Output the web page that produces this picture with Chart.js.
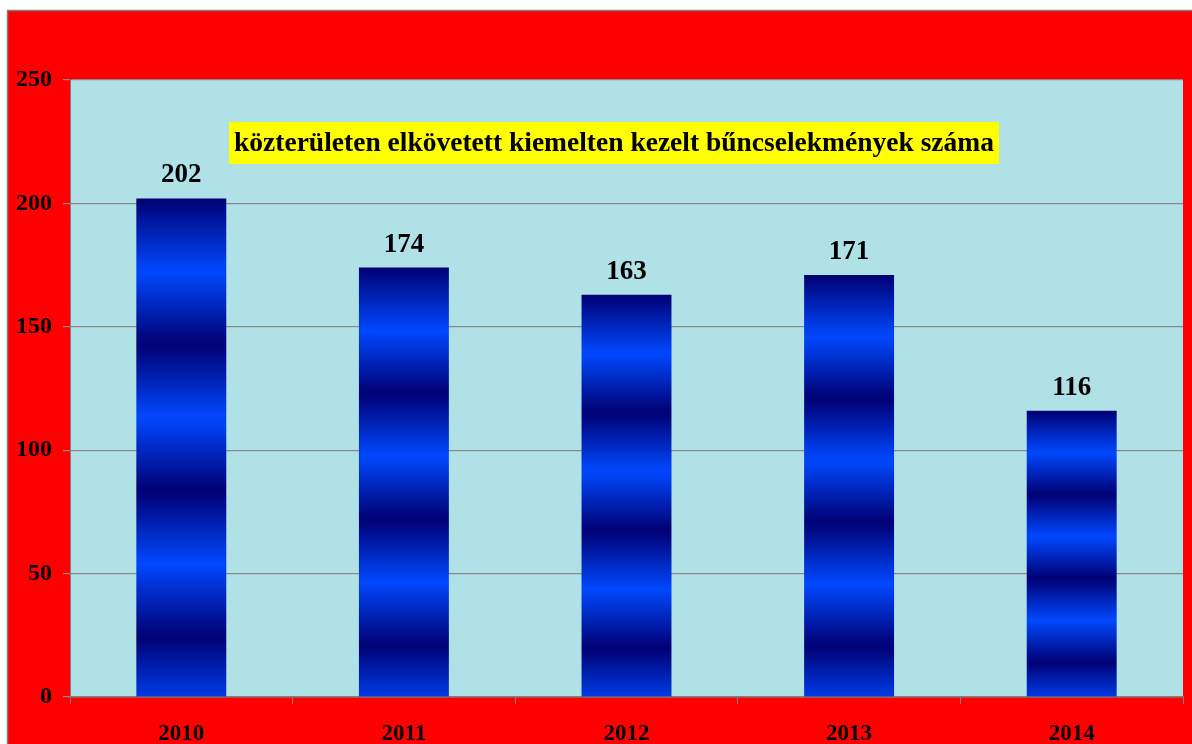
<!DOCTYPE html>
<html>
<head>
<meta charset="utf-8">
<script src="https://cdn.jsdelivr.net/npm/chart.js@4"></script>
<style>
  html, body { margin: 0; padding: 0; background: #fff; }
  #wrap { position: relative; width: 1192px; height: 744px; }
</style>
</head>
<body>
<div id="wrap"><canvas id="chart" width="1192" height="744"></canvas></div>
<script>
// ===== data =====
const years = ["2010", "2011", "2012", "2013", "2014"];
const counts = [202, 174, 163, 171, 116];
const yTicks = [0, 50, 100, 150, 200, 250];
const chartTitle = "közterületen elkövetett kiemelten kezelt bűncselekmények száma";

const FONT = "'Liberation Serif', 'Times New Roman', serif";

// striped blue gradient, scaled to each bar
const DARK = [0, 0, 115];
const BRIGHT = [0, 72, 255];
function barGradient(c) {
  const chart = c.chart;
  if (!chart.chartArea || c.raw == null) return "#0033cc";
  const ys = chart.scales.y;
  const top = ys.getPixelForValue(c.raw);
  const bot = ys.getPixelForValue(0);
  const g = chart.ctx.createLinearGradient(0, top, 0, bot);
  const p = 0.293;
  for (let k = 0; k <= 60; k++) {
    const t = k / 60;
    const ph = (t / p) % 1;
    const s = 1 - Math.abs(ph * 2 - 1); // 0 dark, 1 bright
    const col = DARK.map((d, j) => Math.round(d + (BRIGHT[j] - d) * s));
    g.addColorStop(t, "rgb(" + col.join(",") + ")");
  }
  return g;
}

// red background + grey border + plot area fill
const backdrop = {
  id: "backdrop",
  beforeDraw(chart) {
    const { ctx, chartArea: a } = chart;
    ctx.save();
    ctx.fillStyle = "#ff0000";
    ctx.fillRect(8, 11, chart.width - 8, chart.height - 11);
    ctx.strokeStyle = "#808080";
    ctx.lineWidth = 1.5;
    ctx.beginPath();
    ctx.moveTo(7.5, chart.height);
    ctx.lineTo(7.5, 10.5);
    ctx.lineTo(chart.width, 10.5);
    ctx.stroke();
    ctx.fillStyle = "#b0e1e7";
    ctx.fillRect(a.left, a.top, a.right - a.left, a.bottom - a.top);
    ctx.restore();
  },
};

// value labels + yellow title box
const labels = {
  id: "labels",
  afterDatasetsDraw(chart) {
    const ctx = chart.ctx;
    const meta = chart.getDatasetMeta(0);
    ctx.save();
    ctx.fillStyle = "#000";
    ctx.font = "bold 27px " + FONT;
    ctx.textAlign = "center";
    ctx.textBaseline = "alphabetic";
    meta.data.forEach((bar, i) => {
      ctx.fillText(String(counts[i]), bar.x, bar.y - 16);
    });

    ctx.fillStyle = "#ffff00";
    ctx.fillRect(229, 122, 770, 42);
    ctx.fillStyle = "#000";
    ctx.font = "bold 27.5px " + FONT;
    ctx.fillText(chartTitle, 614, 151);
    ctx.restore();
  },
};

const chart = new Chart(document.getElementById("chart"), {
  type: "bar",
  data: {
    labels: years,
    datasets: [
      {
        data: counts,
        backgroundColor: barGradient,
        borderWidth: 0,
        categoryPercentage: 1,
        barPercentage: 0.404,
      },
    ],
  },
  options: {
    responsive: false,
    animation: false,
    layout: { padding: { top: 80, right: 9, bottom: 0, left: 0 } },
    plugins: { legend: { display: false }, tooltip: { enabled: false } },
    scales: {
      x: {
        grid: {
          offset: true,
          drawOnChartArea: false,
          drawTicks: true,
          tickLength: 7,
          color: "#808080",
        },
        border: { color: "#808080", width: 1.5 },
        ticks: {
          color: "#000",
          font: { family: FONT, size: 23, weight: "bold" },
          padding: 16,
          maxRotation: 0,
        },
        afterFit(s) { s.height = 47; },
      },
      y: {
        min: 0,
        max: 250,
        afterBuildTicks(s) { s.ticks = yTicks.map((v) => ({ value: v })); },
        grid: { color: "#8a8a8a", tickLength: 7, lineWidth: 1.2 },
        border: { color: "#808080", width: 1 },
        ticks: {
          color: "#000",
          font: { family: FONT, size: 24, weight: "bold" },
          padding: 11,
        },
        afterFit(s) { s.width = 70; },
      },
    },
  },
  plugins: [backdrop, labels],
});
</script>
</body>
</html>
